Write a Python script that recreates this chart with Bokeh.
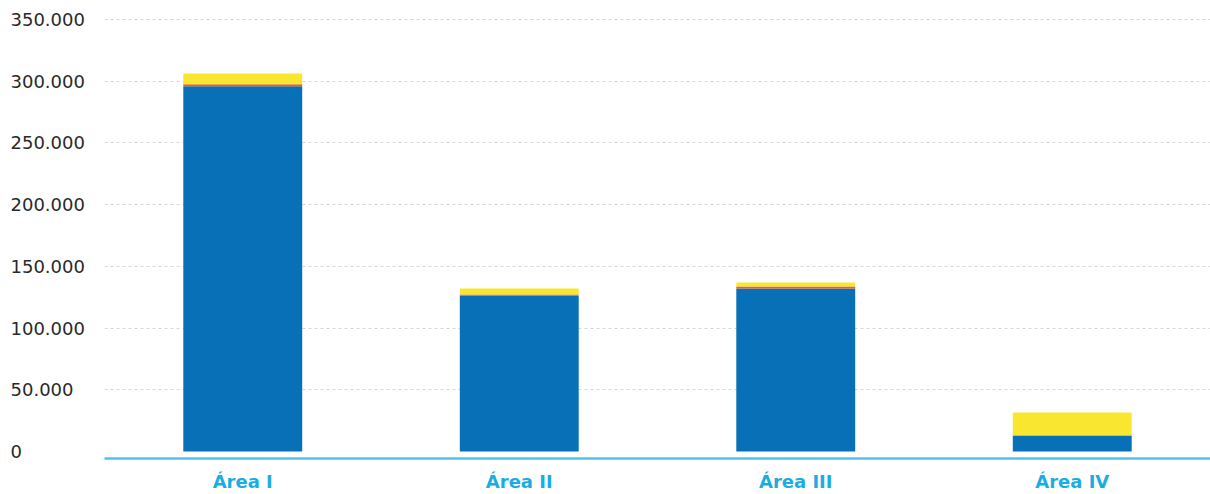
from bokeh.plotting import figure
from bokeh.models import FixedTicker, Range1d
from bokeh.layouts import row
from bokeh.core.properties import value
from bokeh.embed import file_html
from bokeh.resources import INLINE

areas = ["Área I", "Área II", "Área III", "Área IV"]
blue = [296000, 126400, 132100, 12700]
orange = [1600, 800, 1600, 500]
yellow = [8600, 4900, 3200, 18400]
y_ticks = [0, 50000, 100000, 150000, 200000, 250000, 300000, 350000]
y_tick_labels = ["0", "50.000", "100.000", "150.000", "200.000", "250.000", "300.000", "350.000"]

data = dict(area=areas, blue=blue, orange=orange, yellow=yellow)

yr = Range1d(-5700, 365424)

# main chart
p = figure(x_range=areas, y_range=yr, width=1106, height=494,
           output_backend="svg", toolbar_location=None,
           min_border_left=0, min_border_right=0, min_border_top=0, min_border_bottom=36)

p.vbar_stack(["blue", "orange", "yellow"], x="area", width=0.43, source=data,
             color=["#0770B7", "#EF5B2B", "#F8E72E"], line_color=None)

p.outline_line_color = None
p.background_fill_color = "white"
p.border_fill_color = "white"

p.yaxis.visible = False
p.xgrid.visible = False
p.ygrid.ticker = FixedTicker(ticks=y_ticks[1:])
p.ygrid.grid_line_color = "#d6d6d6"
p.ygrid.grid_line_dash = "3 3"
p.ygrid.grid_line_width = 1

xa = p.xaxis[0]
xa.axis_line_color = "#4EC3EE"
xa.axis_line_width = 2.5
xa.major_tick_line_color = None
xa.minor_tick_line_color = None
xa.major_tick_out = 0
xa.major_tick_in = 0
xa.major_label_text_font = "DejaVu Sans"
xa.major_label_text_font_style = "bold"
xa.major_label_text_font_size = "18px"
xa.major_label_text_color = "#1AADE4"
xa.major_label_standoff = 12

# y tick labels (left-aligned, as in the reference)
py = figure(x_range=Range1d(0, 104), y_range=yr, width=104, height=494,
            output_backend="svg", toolbar_location=None,
            min_border_left=0, min_border_right=0, min_border_top=0, min_border_bottom=36)
py.axis.visible = False
py.grid.visible = False
py.outline_line_color = None
py.border_fill_color = "white"
py.text(x=[10] * len(y_ticks), y=y_ticks, text=y_tick_labels,
        text_align="left", text_baseline="middle",
        text_font=value("DejaVu Sans"), text_font_size="18px", text_color="#2a2a2a")

layout = row(py, p, spacing=0)
open("out.html", "w").write(file_html(layout, INLINE))
